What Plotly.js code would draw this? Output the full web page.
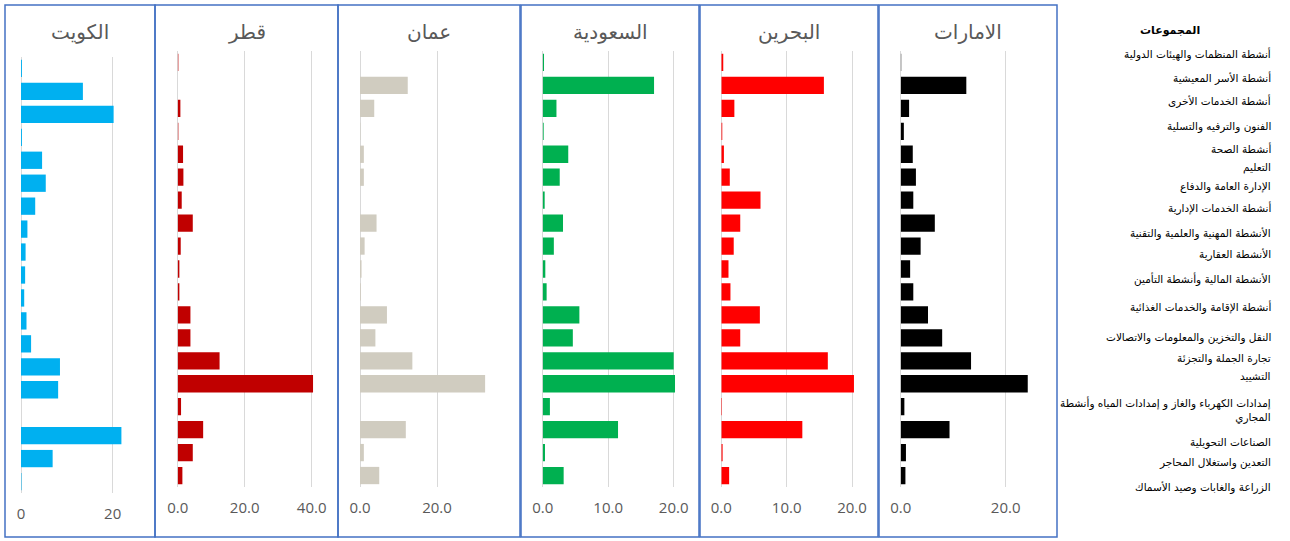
<!DOCTYPE html>
<html>
<head>
<meta charset="utf-8">
<script src="https://cdn.plot.ly/plotly-3.0.1.min.js"></script>
<style>html,body{margin:0;padding:0;background:#fff;}#chart{width:1290px;height:541px;}</style>
</head>
<body>
<div id="chart"></div>
<script>
// ---- Data ----
const categories = [
  'أنشطة المنظمات والهيئات الدولية',
  'أنشطة الأسر المعيشية',
  'أنشطة الخدمات الأخرى',
  'الفنون والترفيه والتسلية',
  'أنشطة الصحة',
  'التعليم',
  'الإدارة العامة والدفاع',
  'أنشطة الخدمات الإدارية',
  'الأنشطة المهنية والعلمية والتقنية',
  'الأنشطة العقارية',
  'الأنشطة المالية وأنشطة التأمين',
  'أنشطة الإقامة والخدمات الغذائية',
  'النقل والتخزين والمعلومات والاتصالات',
  'تجارة الجملة والتجزئة',
  'التشييد',
  'إمدادات الكهرباء والغاز و إمدادات المياه وأنشطة<br>المجاري',
  'الصناعات التحويلية',
  'التعدين واستغلال المحاجر',
  'الزراعة والغابات وصيد الأسماك'
];
const countries = ['الكويت', 'قطر', 'عمان', 'السعودية', 'البحرين', 'الامارات'];
const kuwait  = [0.2, 13.5, 20.2, 0.2, 4.6, 5.4, 3.1, 1.4, 1.0, 0.9, 0.7, 1.2, 2.2, 8.5, 8.1, 0, 21.9, 6.9, 0.1];
const qatar   = [0.2, 0, 0.8, 0.2, 1.6, 1.7, 1.2, 4.5, 0.9, 0.5, 0.5, 3.8, 3.8, 12.5, 40.4, 1.0, 7.6, 4.5, 1.4];
const oman    = [0, 12.4, 3.7, 0.1, 1.0, 1.0, 0, 4.3, 1.2, 0.4, 0.2, 7.0, 4.0, 13.6, 32.5, 0, 11.9, 1.0, 5.0];
const saudi   = [0.2, 17.0, 2.1, 0.15, 3.9, 2.6, 0.3, 3.1, 1.7, 0.4, 0.6, 5.6, 4.6, 20.0, 20.2, 1.1, 11.5, 0.35, 3.2];
const bahrain = [0.3, 15.7, 2.0, 0.15, 0.4, 1.3, 6.0, 2.9, 1.9, 1.1, 1.4, 5.9, 2.9, 16.3, 20.3, 0.1, 12.4, 0.2, 1.2];
const uae     = [0.1, 12.5, 1.6, 0.6, 2.3, 2.9, 2.4, 6.5, 3.8, 1.8, 2.4, 5.2, 7.9, 13.4, 24.2, 0.7, 9.3, 1.0, 0.9];
const seriesValues = [kuwait, qatar, oman, saudi, bahrain, uae];
const tickValues = [[0, 20], [0, 20, 40], [0, 20], [0, 10, 20], [0, 10, 20], [0, 20]];
const legendTitle = 'المجموعات';

// ---- Styles / layout geometry (pixels) ----
const W = 1290, H = 541;
const colors = ['#00B0F0', '#C00000', '#D0CCC0', '#00B050', '#FF0000', '#000000'];
const panels = [
  {x0: 21,    ppu: 4.585, right: 148,  top: 57, bottom: 493, fmt: 'd',   box: [5, 155]},
  {x0: 177.7, ppu: 3.35,  right: 330,  top: 51, bottom: 487, fmt: '.1f', box: [155, 338]},
  {x0: 360,   ppu: 3.85,  right: 505,  top: 51, bottom: 487, fmt: '.1f', box: [338, 520]},
  {x0: 542.7, ppu: 6.55,  right: 688,  top: 51, bottom: 487, fmt: '.1f', box: [521, 699]},
  {x0: 721.3, ppu: 6.535, right: 866,  top: 51, bottom: 487, fmt: '.1f', box: [700, 878]},
  {x0: 900.7, ppu: 5.25,  right: 1045, top: 51, bottom: 487, fmt: '.1f', box: [879, 1057]}
];
const labelY = [54, 78, 101, 127, 149, 167, 186, 208, 233, 255, 279, 307, 337, 358, 376, 410, 442, 462, 487];

const px = v => v / W;
const py = v => 1 - v / H;

const traces = [];
const layout = {
  width: W, height: H,
  margin: {l: 0, r: 0, t: 0, b: 0},
  paper_bgcolor: '#ffffff', plot_bgcolor: 'rgba(0,0,0,0)',
  showlegend: false,
  bargap: 0.246,
  annotations: [], shapes: []
};

panels.forEach((p, i) => {
  const n = i === 0 ? '' : String(i + 1);
  traces.push({
    type: 'bar', orientation: 'h',
    x: seriesValues[i], y: categories,
    xaxis: 'x' + n, yaxis: 'y' + n,
    marker: {color: colors[i], line: {width: 0}},
    hoverinfo: 'x+y'
  });
  layout['xaxis' + n] = {
    domain: [px(p.x0), px(p.right)],
    range: [0, (p.right - p.x0) / p.ppu],
    anchor: 'y' + n,
    tickvals: tickValues[i],
    tickformat: p.fmt,
    showgrid: true, gridcolor: '#D9D9D9', gridwidth: 1,
    zeroline: true, zerolinecolor: '#D9D9D9', zerolinewidth: 1,
    showline: false, ticks: '',
    ticklabelstandoff: 10,
    tickfont: {family: 'Open Sans, sans-serif', size: 15, color: '#595959'},
    fixedrange: true
  };
  layout['yaxis' + n] = {
    domain: [py(p.bottom), py(p.top)],
    anchor: 'x' + n,
    type: 'category',
    autorange: 'reversed',
    showticklabels: false, showgrid: false, zeroline: false, showline: false, ticks: '',
    fixedrange: true
  };
  layout.shapes.push({
    type: 'rect', xref: 'paper', yref: 'paper',
    x0: px(p.box[0]), x1: px(p.box[1]), y0: py(537), y1: py(5),
    line: {color: '#4472C4', width: 1.5}, fillcolor: 'rgba(0,0,0,0)'
  });
  layout.annotations.push({
    xref: 'paper', yref: 'paper',
    x: px((p.box[0] + p.box[1]) / 2), y: py(32),
    xanchor: 'center', yanchor: 'middle', showarrow: false,
    text: countries[i],
    font: {family: 'DejaVu Sans, sans-serif', size: 20, color: '#595959'}
  });
});

layout.annotations.push({
  xref: 'paper', yref: 'paper', x: px(1170), y: py(31),
  xanchor: 'center', yanchor: 'middle', showarrow: false,
  text: '<b>' + legendTitle + '</b>',
  font: {family: 'DejaVu Sans, sans-serif', size: 11, color: '#000000'}
});
categories.forEach((c, k) => {
  layout.annotations.push({
    xref: 'paper', yref: 'paper', x: px(1273), y: py(labelY[k]),
    xanchor: 'right', yanchor: 'middle', align: 'right', showarrow: false,
    text: c,
    font: {family: 'DejaVu Sans, sans-serif', size: 10.5, color: '#000000'}
  });
});

Plotly.newPlot('chart', traces, layout, {displayModeBar: false, staticPlot: true});
</script>
</body>
</html>
